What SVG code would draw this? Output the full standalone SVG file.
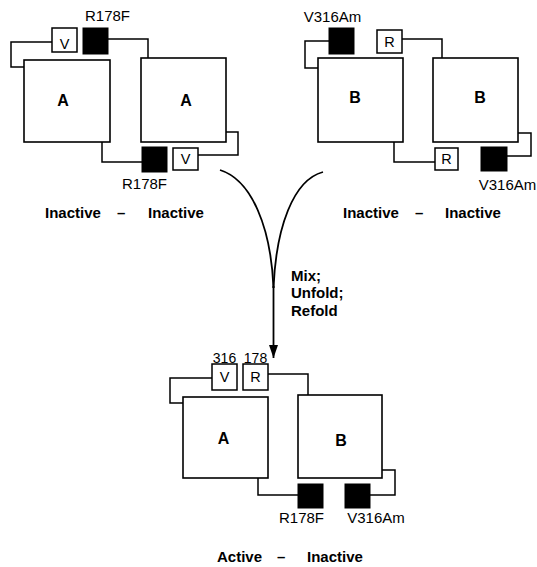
<svg xmlns="http://www.w3.org/2000/svg" width="537" height="567" viewBox="0 0 537 567">
<defs>
<style>
.dom{fill:#fff;stroke:#000;stroke-width:1.6}
.res{fill:#fff;stroke:#000;stroke-width:1.5}
.mut{fill:#000;stroke:#000;stroke-width:1}
.link{fill:none;stroke:#000;stroke-width:1.5}
.arc{fill:none;stroke:#000;stroke-width:1.8}
.big{font-family:"Liberation Sans",Arial,sans-serif;font-weight:bold;font-size:16px;text-anchor:middle}
.sm{font-family:"Liberation Sans",Arial,sans-serif;font-size:14.5px;text-anchor:middle}
.lab{font-family:"Liberation Sans",Arial,sans-serif;font-size:15px;text-anchor:middle}
.num{font-family:"Liberation Sans",Arial,sans-serif;font-size:14px;text-anchor:middle}
.cap{font-family:"Liberation Sans",Arial,sans-serif;font-weight:bold;font-size:15px}
</style>
<marker id="ah" markerWidth="13" markerHeight="9" refX="13" refY="4.5" orient="auto" markerUnits="userSpaceOnUse" viewBox="0 0 13 9">
<path d="M0,0 L13,4.5 L0,9 Z" fill="#000"/>
</marker>
</defs>

<g id="connectors">
<polyline class="link" points="52,42 11,42 11,67 24,67"/>
<polyline class="link" points="108,39 148,39 148,58"/>
<polyline class="link" points="226,132 238,132 238,155 198,155"/>
<polyline class="link" points="102,142 102,162 142,162"/>
<polyline class="link" points="329,41 305,41 305,68 318,68"/>
<polyline class="link" points="402,39 442,39 442,58"/>
<polyline class="link" points="518,133 531,133 531,156 507,156"/>
<polyline class="link" points="394,142 394,162 435,162"/>
<polyline class="link" points="212,378 170,378 170,403 183,403"/>
<polyline class="link" points="268,374 308,374 308,395"/>
<polyline class="link" points="382,470 395,470 395,495 370,495"/>
<polyline class="link" points="258,478 258,495 298,495"/>
<path class="arc" d="M220,170 C252,180 271,228 273.5,288"/>
<path class="arc" d="M323,172 C293,180 276,228 273.5,288"/>
<path class="arc" d="M273.5,286 L273.5,358" marker-end="url(#ah)"/>
</g>

<g id="top-left-A1"><rect class="dom" x="24" y="60" width="86" height="82"/><text class="big" x="63" y="106">A</text></g>
<g id="top-left-A2"><rect class="dom" x="141" y="58" width="85" height="84"/><text class="big" x="186" y="106">A</text></g>
<g id="top-left-V1"><rect class="res" x="52" y="28" width="25" height="24"/><text class="sm" x="64.5" y="49">V</text></g>
<g id="top-left-F1"><rect class="mut" x="83" y="28" width="25" height="26"/><text class="lab" x="107.5" y="21">R178F</text></g>
<g id="top-left-V2"><rect class="res" x="173" y="148" width="25" height="22"/><text class="sm" x="185.5" y="164">V</text></g>
<g id="top-left-F2"><rect class="mut" x="142" y="147" width="25" height="25"/><text class="lab" x="144.5" y="189">R178F</text></g>
<g id="top-left-caption"><text class="cap"><tspan x="45" y="218">Inactive</tspan><tspan x="117" y="218">–</tspan><tspan x="148" y="218">Inactive</tspan></text></g>

<g id="top-right-B1"><rect class="dom" x="318" y="58" width="85" height="84"/><text class="big" x="355" y="103">B</text></g>
<g id="top-right-B2"><rect class="dom" x="433" y="58" width="85" height="84"/><text class="big" x="480" y="103">B</text></g>
<g id="top-right-M1"><rect class="mut" x="329" y="28" width="25" height="26"/><text class="lab" x="332.5" y="22">V316Am</text></g>
<g id="top-right-R1"><rect class="res" x="377" y="30" width="25" height="23"/><text class="sm" x="389.5" y="47">R</text></g>
<g id="top-right-M2"><rect class="mut" x="481" y="147" width="26" height="24"/><text class="lab" x="507.5" y="190">V316Am</text></g>
<g id="top-right-R2"><rect class="res" x="435" y="148" width="23" height="22"/><text class="sm" x="446.5" y="164">R</text></g>
<g id="top-right-caption"><text class="cap"><tspan x="343" y="218">Inactive</tspan><tspan x="415" y="218">–</tspan><tspan x="445" y="218">Inactive</tspan></text></g>

<g id="process-label"><text class="cap"><tspan x="291" y="281">Mix;</tspan><tspan x="291" y="298">Unfold;</tspan><tspan x="291" y="316">Refold</tspan></text></g>

<g id="bottom-A"><rect class="dom" x="183" y="397" width="85" height="81"/><text class="big" x="223.5" y="444">A</text></g>
<g id="bottom-B"><rect class="dom" x="298" y="395" width="84" height="83"/><text class="big" x="341" y="446">B</text></g>
<g id="bottom-V"><rect class="res" x="212" y="364" width="25" height="26"/><text class="sm" x="224.5" y="382">V</text><text class="num" x="224.5" y="363">316</text></g>
<g id="bottom-R"><rect class="res" x="243" y="364" width="25" height="26"/><text class="sm" x="255.5" y="382">R</text><text class="num" x="255.5" y="363">178</text></g>
<g id="bottom-F"><rect class="mut" x="298" y="484" width="25" height="24"/><text class="lab" x="301.5" y="523">R178F</text></g>
<g id="bottom-M"><rect class="mut" x="345" y="484" width="25" height="24"/><text class="lab" x="376" y="523">V316Am</text></g>
<g id="bottom-caption"><text class="cap"><tspan x="217" y="562">Active</tspan><tspan x="277" y="562">–</tspan><tspan x="307" y="562">Inactive</tspan></text></g>
</svg>
